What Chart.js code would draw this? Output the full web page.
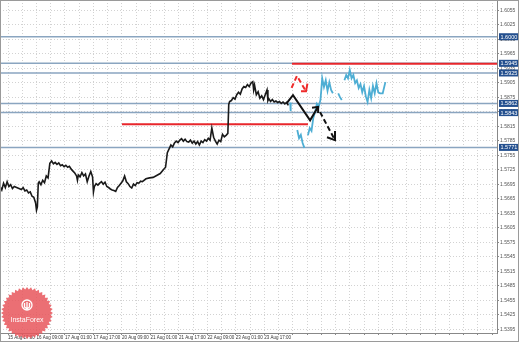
<!DOCTYPE html>
<html>
<head>
<meta charset="utf-8">
<script src="https://cdn.jsdelivr.net/npm/chart.js@4.4.0/dist/chart.umd.min.js"></script>
<style>
  html, body { margin: 0; padding: 0; background: #fff; }
  canvas { display: block; }
</style>
</head>
<body>
<canvas id="chart" width="519" height="342"></canvas>
<script>
// GBP/USD H1, hours counted from the left edge of the window
const blackHours = [0,1,2,3,4,5,6,7,8,10,12,13,14,15,16,17,18,19,20,20.5,21,21.5,22,23,24,25,26,27,28,29,30,31,32,33,34,35,36,37,38,39,40,41,42,43,43.5,44,45,46,47,48,49,50,51,52,52.5,53,54,55,56,57,58,59,60,61,62,63,64,65,66,67,68,69,70,71,72,73,74,75,76,77,78,79,80,82,84,86,88,90,92,93,93.5,94,95,96,97,98,99,100,101,102,103,104,105,106,107,108,109,110,111,112,113,114,115,116,117,118,119,120,121,122,123,124,125,126,127,128,128.5,129,130,131,132,133,134,135,136,137,138,139,140,141,142,142.5,143,144,145,146,147,148,149,150,150.5,151,152,153,154,155,156,157,158,159,160,161,162];
const blackPrices = [1.5690,1.5683,1.5697,1.5688,1.5700,1.5690,1.5694,1.5686,1.5690,1.5687,1.5684,1.5688,1.5681,1.5683,1.5677,1.5679,1.5670,1.5668,1.5656,1.5641,1.5648,1.5697,1.5700,1.5694,1.5703,1.5698,1.5712,1.5708,1.5738,1.5743,1.5737,1.5740,1.5736,1.5739,1.5733,1.5735,1.5731,1.5734,1.5730,1.5732,1.5726,1.5722,1.5718,1.5712,1.5703,1.5714,1.5710,1.5719,1.5712,1.5716,1.5700,1.5712,1.5721,1.5710,1.5679,1.5690,1.5696,1.5693,1.5697,1.5700,1.5695,1.5699,1.5690,1.5688,1.5685,1.5683,1.5682,1.5680,1.5688,1.5692,1.5697,1.5702,1.5712,1.5700,1.5696,1.5690,1.5687,1.5695,1.5692,1.5698,1.5697,1.5701,1.5700,1.5706,1.5708,1.5709,1.5713,1.5717,1.5726,1.5730,1.5745,1.5760,1.5768,1.5776,1.5772,1.5780,1.5784,1.5781,1.5786,1.5789,1.5784,1.5788,1.5783,1.5782,1.5786,1.5780,1.5784,1.5778,1.5783,1.5776,1.5784,1.5781,1.5787,1.5784,1.5790,1.5786,1.5811,1.5792,1.5784,1.5778,1.5786,1.5783,1.5798,1.5793,1.5796,1.5800,1.5860,1.5866,1.5868,1.5874,1.5871,1.5880,1.5885,1.5881,1.5892,1.5897,1.5895,1.5901,1.5897,1.5904,1.5907,1.5890,1.5900,1.5880,1.5886,1.5873,1.5878,1.5870,1.5880,1.5890,1.5868,1.5872,1.5866,1.5870,1.5865,1.5867,1.5864,1.5866,1.5862,1.5865,1.5861,1.5864,1.5858];

// later bars, shown in light blue (null = gap)
const cyanHours = [163,163.3,165,167,168,169,170,171,172,173,174,175,176,177,178,179,180,180.5,181,182,183,184,185,186,187,188.5,190,191,192,192.8,193.5,194.5,195.5,196.5,197.5,198.5,199.5,200.5,201.5,202.5,203.5,204.5,205.5,206.5,207.5,208.5,209.5,210.5,211.5,212.5,213.5,215,216.5];
const cyanPrices = [1.5864,1.5846,null,1.5807,1.5790,1.5797,1.5780,1.5770,null,1.5796,1.5811,1.5805,1.5832,1.5844,1.5861,1.5855,1.5869,1.5890,1.5914,1.5896,1.5910,1.5888,1.5906,1.5890,1.5883,null,1.5883,1.5875,1.5869,null,1.5910,1.5921,1.5914,1.5931,1.5914,1.5921,1.5904,1.5910,1.5894,1.5902,1.5885,1.5898,1.5877,1.5865,1.5890,1.5873,1.5898,1.5883,1.5904,1.5885,1.5883,1.5883,1.5906];

// horizontal levels
const blueLevels = [1.6000, 1.5945, 1.5925, 1.5862, 1.5843, 1.5771];
const redLevels = [1.5944, 1.5819];
const redFrom = [164, 68.5];
const redTo = [279.2, 173];

// hand-drawn forecast arrows
const redArrowHours = [163.8, 166.8, 171.9];
const redArrowPrices = [1.5894, 1.5919, 1.5887];
const redHeadHours = [169.1, 171.9, 172.7];
const redHeadPrices = [1.5887, 1.5887, 1.5903];
const blackArrowHours = [161.2, 164.6, 174.2, 178.7];
const blackArrowPrices = [1.5863, 1.5879, 1.5827, 1.5855];
const blackHeadHours = [175.3, 178.7, 178.7];
const blackHeadPrices = [1.5853, 1.5855, 1.5842];
const dashArrowHours = [179.8, 188.2];
const dashArrowPrices = [1.5844, 1.5786];
const dashHeadHours = [183.7, 188.2, 188.2];
const dashHeadPrices = [1.5792, 1.5786, 1.5805];

// axes
const yTicks = [];
for (let v = 1.5395; v < 1.6060; v += 0.003) yTicks.push(+v.toFixed(4));
const timeLabels = ['15 Aug 17:00','16 Aug 09:00','17 Aug 01:00','17 Aug 17:00','20 Aug 09:00','21 Aug 01:00','21 Aug 17:00','22 Aug 09:00','23 Aug 01:00','23 Aug 17:00'];
const firstTick = 4.5;
const xMax = 279.2;

const pts = (xs, ys) => xs.map((x, i) => ({ x: x, y: ys[i] }));

const datasets = [];
datasets.push({ data: pts(redArrowHours, redArrowPrices), borderColor: '#ee2b2b', borderWidth: 2, borderDash: [5, 3] });
datasets.push({ data: pts(redHeadHours, redHeadPrices), borderColor: '#ee2b2b', borderWidth: 2 });
datasets.push({ data: pts(blackArrowHours, blackArrowPrices), borderColor: '#111', borderWidth: 2 });
datasets.push({ data: pts(blackHeadHours, blackHeadPrices), borderColor: '#111', borderWidth: 2 });
datasets.push({ data: pts(dashArrowHours, dashArrowPrices), borderColor: '#111', borderWidth: 2, borderDash: [5, 3] });
datasets.push({ data: pts(dashHeadHours, dashHeadPrices), borderColor: '#111', borderWidth: 2 });
datasets.push({ data: pts(blackHours, blackPrices), borderColor: '#1a1a1a', borderWidth: 1.6 });
datasets.push({ data: pts(cyanHours, cyanPrices), borderColor: '#4eaed4', borderWidth: 1.8 });
redLevels.forEach((p, i) => {
  datasets.push({ data: [{ x: redFrom[i], y: p }, { x: redTo[i], y: p }], borderColor: '#e8262b', borderWidth: 2 });
});
blueLevels.forEach(p => {
  datasets.push({ data: [{ x: 0, y: p }, { x: xMax, y: p }], borderColor: '#8aa5c0', borderWidth: 1.5 });
});
datasets.forEach(d => { d.showLine = true; d.pointRadius = 0; d.tension = 0; d.spanGaps = false; d.fill = false; });

// boxed price labels at the right, plus the broker badge
const overlay = {
  id: 'overlay',
  afterDraw(chart) {
    const ctx = chart.ctx;
    const y = chart.scales.y;
    const a = chart.chartArea;
    ctx.save();
    ctx.font = '5.5px "Liberation Sans", Arial, sans-serif';
    ctx.textBaseline = 'middle';
    ctx.textAlign = 'left';
    blueLevels.forEach(p => {
      const py = y.getPixelForValue(p);
      ctx.fillStyle = '#24508f';
      ctx.fillRect(a.right + 2, py - 3.5, 20, 7);
      ctx.fillStyle = '#fff';
      ctx.fillText(p.toFixed(4), a.right + 3.5, py + 0.5);
    });

    // InstaForex badge
    const cx = 27, cy = 313, rOut = 26, rIn = 23.5, n = 40;
    ctx.beginPath();
    for (let i = 0; i < n * 2; i++) {
      const ang = (Math.PI * i) / n;
      const r = i % 2 === 0 ? rOut : rIn;
      const px = cx + r * Math.cos(ang), py = cy + r * Math.sin(ang);
      if (i === 0) ctx.moveTo(px, py); else ctx.lineTo(px, py);
    }
    ctx.closePath();
    ctx.fillStyle = 'rgba(232, 86, 92, 0.85)';
    ctx.fill();
    ctx.strokeStyle = '#fff';
    ctx.lineWidth = 1.3;
    ctx.beginPath();
    ctx.arc(cx, cy - 8, 5, 0, Math.PI * 2);
    ctx.stroke();
    ctx.beginPath();
    ctx.moveTo(cx, cy - 11); ctx.lineTo(cx, cy - 3);
    ctx.moveTo(cx - 2.5, cy - 10); ctx.lineTo(cx - 2.5, cy - 6); ctx.lineTo(cx, cy - 4);
    ctx.moveTo(cx + 2.5, cy - 10); ctx.lineTo(cx + 2.5, cy - 6); ctx.lineTo(cx, cy - 4);
    ctx.stroke();
    ctx.fillStyle = '#fff';
    ctx.font = '7px "Liberation Sans", Arial, sans-serif';
    ctx.textAlign = 'center';
    ctx.fillText('InstaForex', cx, cy + 7);

    ctx.strokeStyle = '#9a9a9a';
    ctx.lineWidth = 1;
    ctx.strokeRect(0.5, 0.5, chart.width - 1, chart.height - 1);
    ctx.restore();
  }
};

const gridStyle = { color: '#d2d2d2', tickLength: 2, tickColor: '#888' };
const borderStyle = { color: '#888', width: 1, dash: [1, 2] };

new Chart(document.getElementById('chart'), {
  type: 'scatter',
  data: { datasets: datasets },
  options: {
    responsive: false,
    animation: false,
    events: [],
    layout: { padding: 0 },
    plugins: { legend: { display: false }, tooltip: { enabled: false } },
    scales: {
      x: {
        type: 'linear',
        position: 'bottom',
        min: 0,
        max: xMax,
        afterBuildTicks(axis) {
          const t = [];
          for (let v = firstTick; v <= xMax; v += 8) t.push({ value: v });
          axis.ticks = t;
        },
        afterFit(axis) { axis.height = 9; axis.paddingLeft = 0; axis.paddingRight = 0; },
        ticks: {
          autoSkip: false,
          maxRotation: 0,
          align: 'start',
          padding: 0,
          color: '#333',
          font: { size: 4.5, family: '"Liberation Sans", Arial, sans-serif' },
          callback(v) {
            const k = Math.round((v - firstTick) / 8);
            return k % 2 === 0 && timeLabels[k / 2] ? timeLabels[k / 2] : '';
          }
        },
        grid: gridStyle,
        border: borderStyle
      },
      y: {
        type: 'linear',
        position: 'right',
        min: 1.5387,
        max: 1.6076,
        afterBuildTicks(axis) { axis.ticks = yTicks.map(v => ({ value: v })); },
        afterFit(axis) { axis.width = 22; axis.paddingTop = 0; axis.paddingBottom = 0; },
        ticks: {
          autoSkip: false,
          padding: 1,
          color: '#555',
          font: { size: 5, family: '"Liberation Sans", Arial, sans-serif' },
          callback(v) { return v.toFixed(4); }
        },
        grid: gridStyle,
        border: borderStyle
      }
    }
  },
  plugins: [overlay]
});
</script>
</body>
</html>
